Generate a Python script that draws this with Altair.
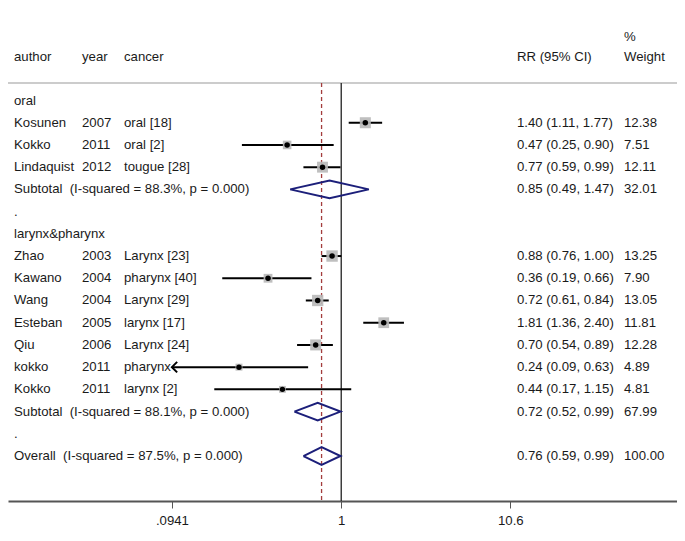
import altair as alt
import pandas as pd
import numpy as np

# ---------------- data (top to bottom) ----------------
kinds = ["head", "study", "study", "study", "pooled", "blank",
         "head", "study", "study", "study", "study", "study", "study", "study",
         "pooled", "blank", "pooled"]
authors = ["oral", "Kosunen", "Kokko", "Lindaquist",
           "Subtotal\u00a0\u00a0(I-squared = 88.3%, p = 0.000)", ".",
           "larynx&pharynx", "Zhao", "Kawano", "Wang", "Esteban", "Qiu", "kokko", "Kokko",
           "Subtotal\u00a0\u00a0(I-squared = 88.1%, p = 0.000)", ".",
           "Overall\u00a0\u00a0(I-squared = 87.5%, p = 0.000)"]
years = ["", "2007", "2011", "2012", "", "", "", "2003", "2004", "2004", "2005",
         "2006", "2011", "2011", "", "", ""]
cancers = ["", "oral [18]", "oral [2]", "tougue [28]", "", "", "", "Larynx [23]",
           "pharynx [40]", "Larynx [29]", "larynx [17]", "Larynx [24]", "pharynx",
           "larynx [2]", "", "", ""]
rr = [None, 1.40, 0.47, 0.77, 0.85, None, None, 0.88, 0.36, 0.72, 1.81, 0.70,
      0.24, 0.44, 0.72, None, 0.76]
ci_lo = [None, 1.11, 0.25, 0.59, 0.49, None, None, 0.76, 0.19, 0.61, 1.36, 0.54,
         0.09, 0.17, 0.52, None, 0.59]
ci_hi = [None, 1.77, 0.90, 0.99, 1.47, None, None, 1.00, 0.66, 0.84, 2.40, 0.89,
         0.63, 1.15, 0.99, None, 0.99]
weights = [None, 12.38, 7.51, 12.11, 32.01, None, None, 13.25, 7.90, 13.05, 11.81,
           12.28, 4.89, 4.81, 67.99, None, 100.00]

tick_values = [0.0941, 1, 10.6]
tick_labels = [".0941", "1", "10.6"]

# ---------------- build tables ----------------
rows = list(range(1, len(kinds) + 1))
df = pd.DataFrame({
    "row": rows, "kind": kinds, "author": authors, "year": years, "cancer": cancers,
    "rr": rr, "lo": ci_lo, "hi": ci_hi, "w": weights,
})


def fmt_rr(r):
    if pd.isna(r["rr"]):
        return ""
    return f"{r['rr']:.2f} ({r['lo']:.2f}, {r['hi']:.2f})"


df["rr_txt"] = df.apply(fmt_rr, axis=1)
df["w_txt"] = df["w"].apply(lambda v: "" if pd.isna(v) else f"{v:.2f}")

studies = df[df["kind"] == "study"].copy()
pooled = df[df["kind"] == "pooled"].copy()

# diamond polygons for pooled estimates
dia = []
for i, r in pooled.iterrows():
    pts = [(r["lo"], r["row"]), (r["rr"], r["row"] - 0.4), (r["hi"], r["row"]),
           (r["rr"], r["row"] + 0.4), (r["lo"], r["row"])]
    for k, (xv, yv) in enumerate(pts):
        dia.append({"id": int(r["row"]), "o": k, "x": xv, "y": yv})
dia = pd.DataFrame(dia)

overall_rr = rr[-1]
xmin = tick_values[0]

W, H = 669, 493
FONT = "Liberation Sans"
FS = 13.2
TXT = "#1a1a1a"

xscale = alt.Scale(type="log", domain=[0.00955, 108.5], nice=False)
yscale = alt.Scale(domain=[-3.163, 19.024], reverse=True, nice=False, zero=False)

label_expr = " : ".join(
    [f"datum.value == {v} ? '{l}'" for v, l in zip(tick_values, tick_labels)] + ["''"]
)

base = alt.Chart(df)

# bottom axis carrier (invisible points)
axis_layer = alt.Chart(pd.DataFrame({"v": tick_values})).mark_point(opacity=0).encode(
    x=alt.X("v:Q", scale=xscale, title=None,
            axis=alt.Axis(values=tick_values, labelExpr=label_expr, grid=False,
                          domainColor="#555555", domainWidth=2, tickColor="#555555",
                          tickWidth=1, tickSize=7, labelFont=FONT, labelFontSize=FS,
                          labelColor=TXT, labelPadding=6)),
    y=alt.value(H),
)

top_line = alt.Chart(pd.DataFrame({"a": [0]})).mark_rule(color="#cccccc", strokeWidth=2).encode(
    x=alt.value(0), x2=alt.value(W), y=alt.value(75))

null_line = alt.Chart(pd.DataFrame({"v": [1]})).mark_rule(color="#222222", strokeWidth=1.3).encode(
    x=alt.X("v:Q", scale=xscale), y=alt.value(75), y2=alt.value(H))

overall_line = alt.Chart(pd.DataFrame({"v": [overall_rr]})).mark_rule(
    color="#a33c3c", strokeWidth=1.3, strokeDash=[4, 3]).encode(
    x=alt.X("v:Q", scale=xscale), y=alt.value(75), y2=alt.value(H))

squares = alt.Chart(studies).mark_square(color="#b8b8b8", opacity=0.9).encode(
    x=alt.X("rr:Q", scale=xscale),
    y=alt.Y("row:Q", scale=yscale, axis=None),
    size=alt.Size("w:Q", scale=alt.Scale(domain=[0, 13.25], range=[0, 130]), legend=None),
)

ci = alt.Chart(studies).transform_calculate(
    lo_c=f"max(datum.lo, {xmin})").mark_rule(color="black", strokeWidth=2).encode(
    x=alt.X("lo_c:Q", scale=xscale),
    x2="hi:Q",
    y=alt.Y("row:Q", scale=yscale, axis=None),
)

dots = alt.Chart(studies).mark_circle(color="black", size=30, opacity=1).encode(
    x=alt.X("rr:Q", scale=xscale),
    y=alt.Y("row:Q", scale=yscale, axis=None),
)

arrows = alt.Chart(studies).transform_filter(f"datum.lo < {xmin}").transform_calculate(
    ax=f"{xmin}").mark_point(shape="M 1 -1 L 0 0 L 1 1", size=110, filled=False,
                              color="black", strokeWidth=2, opacity=1).encode(
    x=alt.X("ax:Q", scale=xscale),
    y=alt.Y("row:Q", scale=yscale, axis=None),
)

diamonds = alt.Chart(dia).mark_line(color="#1c1f7a", strokeWidth=2).encode(
    x=alt.X("x:Q", scale=xscale),
    y=alt.Y("y:Q", scale=yscale, axis=None),
    detail="id:N",
    order="o:Q",
)


def col_text(field, xpix):
    return base.mark_text(align="left", baseline="middle", font=FONT, fontSize=FS,
                          color=TXT).encode(
        x=alt.value(xpix),
        y=alt.Y("row:Q", scale=yscale, axis=None),
        text=f"{field}:N",
    )


headers = pd.DataFrame({
    "t": ["author", "year", "cancer", "RR (95% CI)", "%", "Weight"],
    "px": [6, 74, 116, 509, 616, 616],
    "py": [49, 49, 49, 49, 29, 49],
})
header_layer = alt.Chart(headers).mark_text(align="left", baseline="middle", font=FONT,
                                            fontSize=FS, color=TXT).encode(
    x=alt.X("px:Q", scale=None), y=alt.Y("py:Q", scale=None), text="t:N")

chart = alt.layer(
    axis_layer, top_line, overall_line, null_line, ci, squares, dots, arrows, diamonds,
    col_text("author", 6), col_text("year", 74), col_text("cancer", 116),
    col_text("rr_txt", 509), col_text("w_txt", 616), header_layer,
).properties(
    width=W, height=H,
    autosize=alt.AutoSizeParams(type="none"),
    padding={"left": 0, "right": 0, "top": 0, "bottom": 32},
).configure_view(stroke=None)

chart.save("out.html", embed_options={"renderer": "svg", "actions": False})
